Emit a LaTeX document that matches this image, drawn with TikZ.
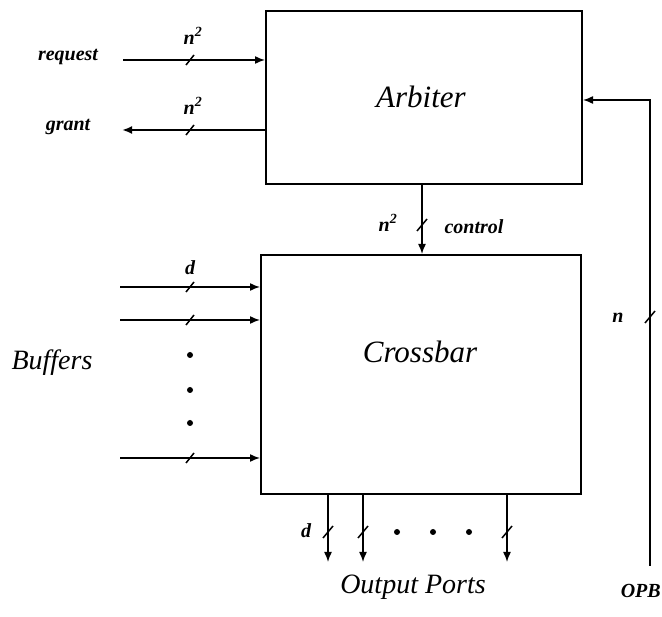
\documentclass[tikz,border=0pt]{standalone}
\usepackage{fontspec}
\setmainfont{Liberation Serif}
\usetikzlibrary{arrows.meta}
\begin{document}
\begin{tikzpicture}[x=1pt,y=-1pt,
  box/.style={draw,line width=2pt,anchor=north west,inner sep=0pt},
  sig/.style={line width=1.5pt,-{Latex[length=10pt,width=8pt]}},
  sigthick/.style={line width=2.4pt,-{Latex[length=10pt,width=8pt]}},
  slash/.style={line width=1.5pt},
  dotm/.style={circle,fill=black,inner sep=0pt,minimum size=6pt},
  bigtxt/.style={font=\fontsize{31}{35}\selectfont\itshape,inner sep=0pt},
  midtxt/.style={font=\fontsize{28}{32}\selectfont\itshape,inner sep=0pt},
  smalltxt/.style={font=\fontsize{20}{22}\selectfont\bfseries\itshape,inner sep=0pt}]
\useasboundingbox (0,0) rectangle (662,617);

% boxes
\node[box,minimum width=316pt,minimum height=173pt] (arb) at (265,10) {};
\node[bigtxt] (arbtxt) at (421,97) {Arbiter};
\node[box,minimum width=320pt,minimum height=239pt] (xbar) at (260,254) {};
\node[bigtxt] (xbartxt) at (420,352) {Crossbar};

% request / grant
\node[smalltxt] (req) at (68,57) {request};
\node[smalltxt] (gnt) at (68,127) {grant};
\coordinate (reqs) at (123,60);
\coordinate (gnte) at (122,130);
\draw[sig] (reqs) -- (reqs -| arb.west);
\draw[sigthick] (gnte -| arb.west) -- (gnte);
\draw[slash] (190,60) ++(-4,5) -- ++(8,-10);
\draw[slash] (190,130) ++(-4,5) -- ++(8,-10);
\node[smalltxt] (n2a) at (193,36) {n\textsuperscript{2}};
\node[smalltxt] (n2b) at (193,106) {n\textsuperscript{2}};

% control
\draw[sig] (arb.south -| 422,0) -- (xbar.north -| 422,0);
\draw[slash] (422,225) ++(-5,6) -- ++(10,-12);
\node[smalltxt] (n2c) at (388,223) {n\textsuperscript{2}};
\node[smalltxt] (ctl) at (474,227) {control};

% buffers
\node[midtxt] (buf) at (52,363) {Buffers};
\coordinate (b1) at (120,287);
\coordinate (b2) at (120,320);
\coordinate (b3) at (120,458);
\draw[sig] (b1) -- (b1 -| xbar.west);
\draw[sig] (b2) -- (b2 -| xbar.west);
\draw[sig] (b3) -- (b3 -| xbar.west);
\foreach \yy in {287,320,458} \draw[slash] (190,\yy) ++(-4,5) -- ++(8,-10);
\node[smalltxt] (dbuf) at (190,268) {d};
\node[dotm] (bd1) at (190,355) {};
\node[dotm] (bd2) at (190,390) {};
\node[dotm] (bd3) at (190,423) {};

% output ports
\coordinate (o1) at (328,562);
\coordinate (o2) at (363,562);
\coordinate (o3) at (507,562);
\draw[sig] (o1 |- xbar.south) -- (o1);
\draw[sig] (o2 |- xbar.south) -- (o2);
\draw[sig] (o3 |- xbar.south) -- (o3);
\foreach \xx in {328,363,507} \draw[slash] (\xx,532) ++(-5,6) -- ++(10,-12);
\node[smalltxt] (dout) at (306,531) {d};
\node[dotm] (od1) at (397,532) {};
\node[dotm] (od2) at (433,532) {};
\node[dotm] (od3) at (469,532) {};
\node[midtxt] (outp) at (413,587) {Output Ports};

% OPB feedback
\coordinate (opb) at (650,566);
\coordinate (opbturn) at (650,100);
\draw[sig] (opb) -- (opbturn) -- (opbturn -| arb.east);
\draw[slash] (650,317) ++(-5,6) -- ++(10,-12);
\node[smalltxt] (nopb) at (618,318) {n};
\node[smalltxt,anchor=east] (opbtxt) at (661,591) {OPB};
\end{tikzpicture}
\end{document}
